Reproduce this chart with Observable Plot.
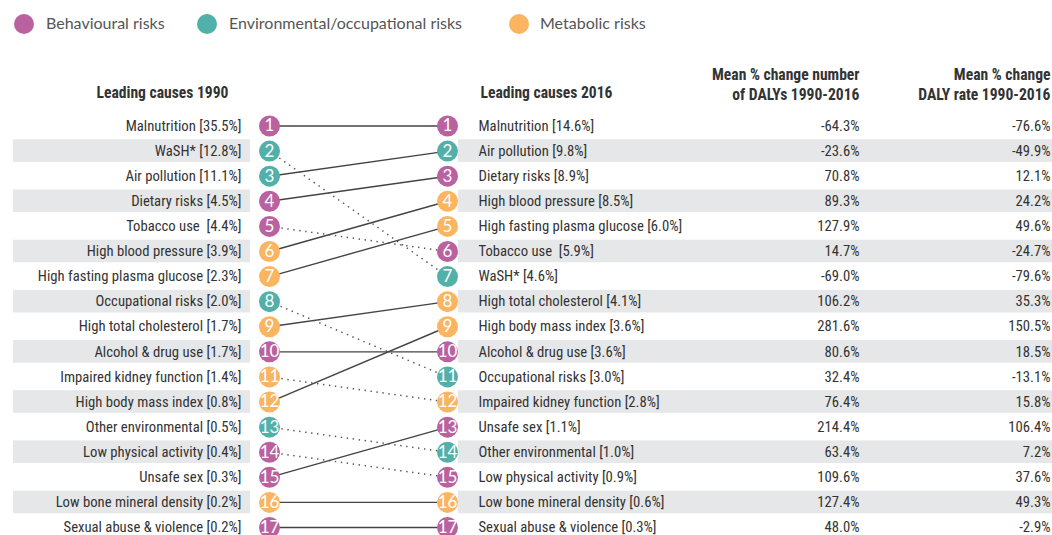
<!DOCTYPE html>
<html><head><meta charset="utf-8">
<script src="https://cdn.jsdelivr.net/npm/d3@7"></script>
<script src="https://cdn.jsdelivr.net/npm/@observablehq/plot@0.6"></script>
<style>
body{margin:0;background:#fff;}
#legend{height:48px;position:relative;font-family:Lato,"Open Sans",sans-serif;font-size:16px;color:#555;}
.sw{position:absolute;top:14px;width:20px;height:20px;border-radius:50%;}
.lb{position:absolute;top:13px;line-height:20px;white-space:nowrap;}
#chart svg text{font-stretch:condensed;}
</style></head><body>
<div id="legend"></div>
<div id="chart"></div>
<script>
// ---- data ----
const riskTypes = ["Behavioural risks", "Environmental/occupational risks", "Metabolic risks"];
const riskColors = ["#b9629f", "#52b0aa", "#fbb560"];

const causes1990 = ["Malnutrition","WaSH*","Air pollution","Dietary risks","Tobacco use","High blood pressure","High fasting plasma glucose","Occupational risks","High total cholesterol","Alcohol & drug use","Impaired kidney function","High body mass index","Other environmental","Low physical activity","Unsafe sex","Low bone mineral density","Sexual abuse & violence"];
const share1990 = [35.5,12.8,11.1,4.5,4.4,3.9,2.3,2.0,1.7,1.7,1.4,0.8,0.5,0.4,0.3,0.2,0.2];
const type1990 = ["Behavioural risks","Environmental/occupational risks","Environmental/occupational risks","Behavioural risks","Behavioural risks","Metabolic risks","Metabolic risks","Environmental/occupational risks","Metabolic risks","Behavioural risks","Metabolic risks","Metabolic risks","Environmental/occupational risks","Behavioural risks","Behavioural risks","Metabolic risks","Behavioural risks"];

const causes2016 = ["Malnutrition","Air pollution","Dietary risks","High blood pressure","High fasting plasma glucose","Tobacco use","WaSH*","High total cholesterol","High body mass index","Alcohol & drug use","Occupational risks","Impaired kidney function","Unsafe sex","Other environmental","Low physical activity","Low bone mineral density","Sexual abuse & violence"];
const share2016 = [14.6,9.8,8.9,8.5,6.0,5.9,4.6,4.1,3.6,3.6,3.0,2.8,1.1,1.0,0.9,0.6,0.3];
const changeNumber = [-64.3,-23.6,70.8,89.3,127.9,14.7,-69.0,106.2,281.6,80.6,32.4,76.4,214.4,63.4,109.6,127.4,48.0];
const changeRate = [-76.6,-49.9,12.1,24.2,49.6,-24.7,-79.6,35.3,150.5,18.5,-13.1,15.8,106.4,7.2,37.6,49.3,-2.9];

const headerLeft = ["Leading causes 1990"];
const headerMid = ["Leading causes 2016"];
const headerRight = [
  {text:"Mean % change number\nof DALYs 1990-2016", col:"num"},
  {text:"Mean % change\nDALY rate 1990-2016", col:"rate"}
];

// ---- layout (pixel positions of columns) ----
const COL = {h1990:162, lab1990:241, c1990:269, c2016:447, lab2016:478, h2016:480, num:859, rate:1050};
const FONT = '"Roboto Condensed",Roboto,"DejaVu Sans Condensed",sans-serif';
const FS = 14.7;
const HFS = 15.6;

// ---- legend ----
const legendPos = [{sw:14, lb:46},{sw:197, lb:229},{sw:509, lb:540}];
const leg = document.getElementById("legend");
riskTypes.forEach((t,i)=>{
  const s = document.createElement("div"); s.className="sw"; s.style.background=riskColors[i]; s.style.left=legendPos[i].sw+"px";
  leg.appendChild(s);
  const l = document.createElement("div"); l.className="lb"; l.textContent=t; l.style.left=legendPos[i].lb+"px";
  leg.appendChild(l);
});

// ---- derived tables ----
const fmt = v => v.toFixed(1) + "%";
const nameLabel = c => c === "Tobacco use" ? c + "\u00a0" : c;
const rows1990 = causes1990.map((c,i)=>({cause:c, rank:i+1, type:type1990[i], label:`${nameLabel(c)} [${share1990[i].toFixed(1)}%]`}));
const typeOf = Object.fromEntries(rows1990.map(d=>[d.cause,d.type]));
const rows2016 = causes2016.map((c,i)=>({cause:c, rank:i+1, type:typeOf[c], label:`${nameLabel(c)} [${share2016[i].toFixed(1)}%]`, num:fmt(changeNumber[i]), rate:fmt(changeRate[i])}));
const links = rows1990.map(d=>({cause:d.cause, r0:d.rank, r1:causes2016.indexOf(d.cause)+1}));
const stripes = rows2016.filter(d=>d.rank%2===0);

const txt = {fill:"#333", fontSize:FS, fontFamily:FONT};
const htxt = {fill:"#333", fontSize:HFS, fontFamily:FONT, fontWeight:"bold"};
const num = {fill:"#fff", fontSize:17, fontFamily:"Lato,sans-serif"};
const chart = Plot.plot({
  width:1052, height:487, margin:0,
  style:{fontFamily:FONT, background:"#fff"},
  x:{domain:[0,1052], range:[0,1052], axis:null},
  y:{domain:[1,17], range:[77.5,479], axis:null},
  color:{domain:riskTypes, range:riskColors},
  marks:[
    Plot.rect(stripes,{x1:()=>13, x2:()=>250, y1:d=>d.rank-0.45, y2:d=>d.rank+0.45, fill:"#e6e7e8"}),
    Plot.rect(stripes,{x1:()=>458, x2:()=>1052, y1:d=>d.rank-0.45, y2:d=>d.rank+0.45, fill:"#e6e7e8"}),
    Plot.link(links.filter(d=>d.r1<=d.r0),{x1:()=>COL.c1990, x2:()=>COL.c2016, y1:"r0", y2:"r1", stroke:"#444", strokeWidth:1.4}),
    Plot.link(links.filter(d=>d.r1>d.r0),{x1:()=>COL.c1990, x2:()=>COL.c2016, y1:"r0", y2:"r1", stroke:"#555", strokeWidth:1.5, strokeDasharray:"1.4,4.6"}),
    Plot.dot(rows1990,{x:()=>COL.c1990, y:"rank", r:10.5, fill:"type"}),
    Plot.dot(rows2016,{x:()=>COL.c2016, y:"rank", r:10.5, fill:"type"}),
    Plot.text(rows1990,{x:()=>COL.c1990, y:"rank", text:d=>String(d.rank), ...num}),
    Plot.text(rows2016,{x:()=>COL.c2016, y:"rank", text:d=>String(d.rank), ...num}),
    Plot.text(rows1990,{x:()=>COL.lab1990, y:"rank", text:"label", textAnchor:"end", ...txt}),
    Plot.text(rows2016,{x:()=>COL.lab2016, y:"rank", text:"label", textAnchor:"start", ...txt}),
    Plot.text(rows2016,{x:()=>COL.num, y:"rank", text:"num", textAnchor:"end", ...txt}),
    Plot.text(rows2016,{x:()=>COL.rate, y:"rank", text:"rate", textAnchor:"end", ...txt}),
    Plot.text(headerLeft,{x:()=>COL.h1990, frameAnchor:"top", lineAnchor:"middle", dy:44, text:d=>d, textAnchor:"middle", ...htxt}),
    Plot.text(headerMid,{x:()=>COL.h2016, frameAnchor:"top", lineAnchor:"middle", dy:44, text:d=>d, textAnchor:"start", ...htxt}),
    Plot.text(headerRight,{x:h=>COL[h.col], frameAnchor:"top", lineAnchor:"middle", dy:35, text:"text", textAnchor:"end", lineHeight:1.28, ...htxt})
  ]
});
document.getElementById("chart").appendChild(chart);
</script>
</body></html>
